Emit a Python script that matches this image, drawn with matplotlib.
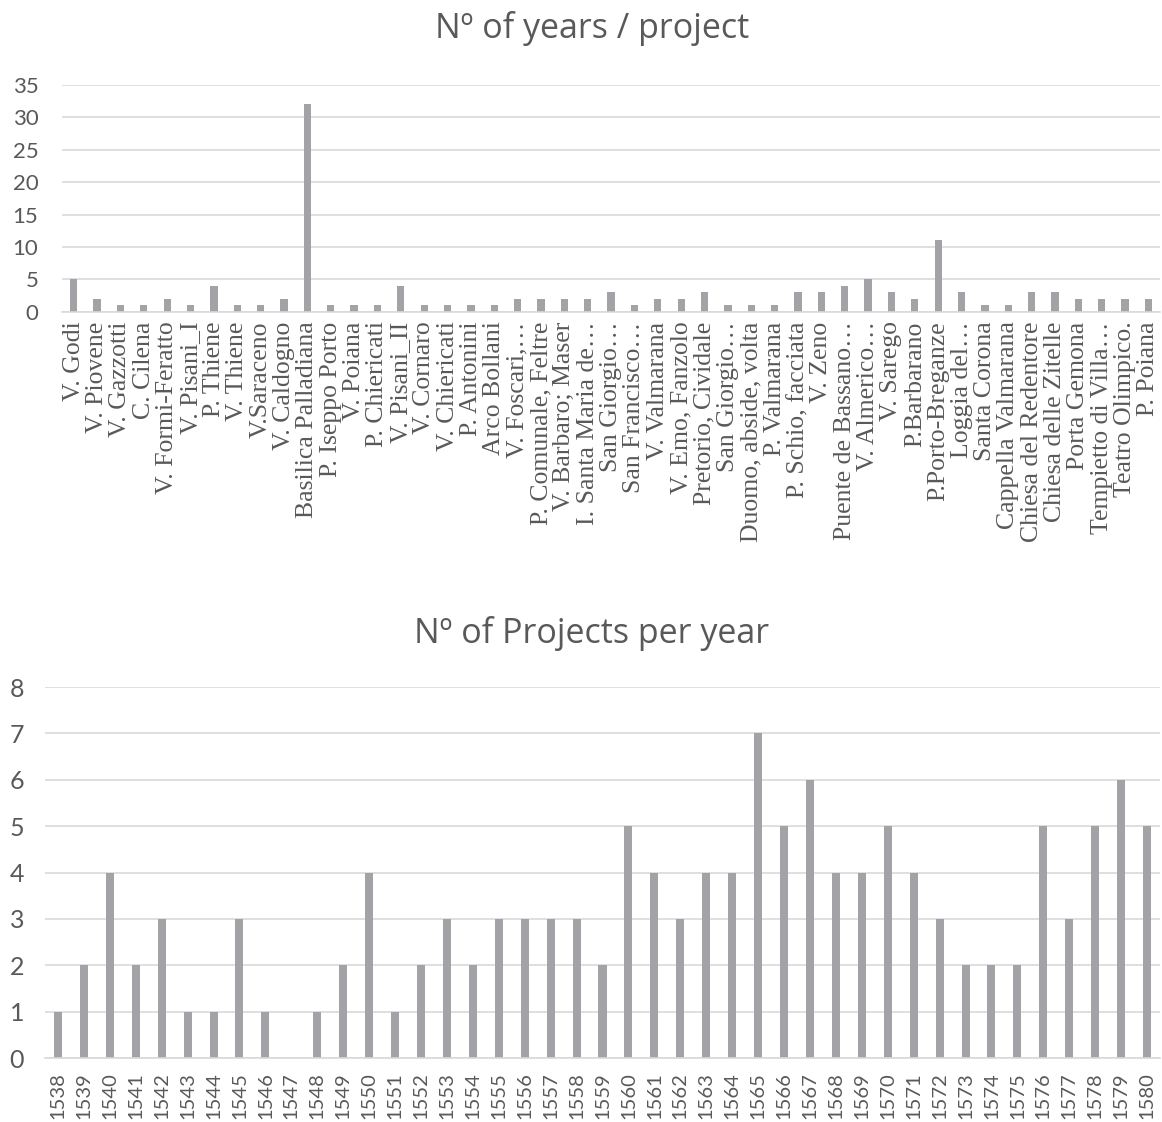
import numpy as np
import matplotlib
matplotlib.use("Agg")
import matplotlib.pyplot as plt

# data
projects = ["V. Godi", "V. Piovene", "V. Gazzotti", "C. Cilena", "V. Formi-Feratto",
            "V. Pisani_I", "P. Thiene", "V. Thiene", "V.Saraceno", "V. Caldogno",
            "Basilica Palladiana", "P. Iseppo Porto", "V. Poiana", "P. Chiericati",
            "V. Pisani_II", "V. Cornaro", "V. Chiericati", "P. Antonini", "Arco Bollani",
            "V. Foscari,…", "P. Comunale, Feltre", "V. Barbaro; Maser",
            "I. Santa Maria de…", "San Giorgio…", "San Francisco…", "V. Valmarana",
            "V. Emo, Fanzolo", "Pretorio, Cividale", "San Giorgio…",
            "Duomo, abside, volta", "P. Valmarana", "P. Schio, facciata", "V. Zeno",
            "Puente de Bassano…", "V. Almerico…", "V. Sarego", "P.Barbarano",
            "P.Porto-Breganze", "Loggia del…", "Santa Corona", "Cappella Valmarana",
            "Chiesa del Redentore", "Chiesa delle Zitelle", "Porta Gemona",
            "Tempietto di Villa…", "Teatro Olimpico.", "P. Poiana"]
years_per_project = [5, 2, 1, 1, 2, 1, 4, 1, 1, 2, 32, 1, 1, 1, 4, 1, 1, 1, 1, 2, 2, 2, 2,
                     3, 1, 2, 2, 3, 1, 1, 1, 3, 3, 4, 5, 3, 2, 11, 3, 1, 1, 3, 3, 2, 2, 2, 2]

years = list(range(1538, 1581))
projects_per_year = [1, 2, 4, 2, 3, 1, 1, 3, 1, 0, 1, 2, 4, 1, 2, 3, 2, 3, 3, 3, 3, 2,
                     5, 4, 3, 4, 4, 7, 5, 6, 4, 4, 5, 4, 3, 2, 2, 2, 5, 3, 5, 6, 5]

bar_col = "#a3a3a7"
grid_col = "#d9d9d9"
txt_col = "#595959"
sans = ["Lato", "DejaVu Sans"]
title_font = ["Open Sans", "DejaVu Sans"]

fig = plt.figure(figsize=(11.62, 11.22), dpi=100)

def style(ax):
    for s in ["top", "right", "left"]:
        ax.spines[s].set_visible(False)
    ax.spines["bottom"].set_color(grid_col)
    ax.spines["bottom"].set_linewidth(1.2)
    ax.yaxis.grid(True, color=grid_col, linewidth=1.2)
    ax.set_axisbelow(True)
    ax.tick_params(length=0)

# top chart
ax1 = fig.add_axes([0.0534, 0.7222, 0.945, 0.2020])
x1 = np.arange(len(projects))
ax1.bar(x1, years_per_project, width=0.31, color=bar_col)
ax1.set_xlim(-0.5, len(projects) - 0.5)
ax1.set_ylim(0, 35)
ax1.set_yticks(range(0, 36, 5))
style(ax1)
ax1.set_xticks(x1)
ax1.set_xticklabels(projects, rotation=90, family="Liberation Serif", fontsize=18.5,
                    color=txt_col)
ax1.tick_params(axis="x", pad=7)
ax1.tick_params(axis="y", pad=17)
for t in ax1.get_yticklabels():
    t.set_family(sans)
    t.set_fontsize(16)
    t.set_color(txt_col)

# bottom chart
ax2 = fig.add_axes([0.0387, 0.0570, 0.9596, 0.3307])
x2 = np.arange(len(years))
ax2.bar(x2, projects_per_year, width=0.31, color=bar_col)
ax2.set_xlim(-0.5, len(years) - 0.5)
ax2.set_ylim(0, 8)
ax2.set_yticks(range(0, 9))
style(ax2)
ax2.set_xticks(x2)
ax2.set_xticklabels([str(y) for y in years], rotation=90, family=sans, fontsize=14.5,
                    color=txt_col)
ax2.tick_params(axis="x", pad=10)
ax2.tick_params(axis="y", pad=15)
for t in ax2.get_yticklabels():
    t.set_family(sans)
    t.set_fontsize(18)
    t.set_color(txt_col)

fig.text(0.510, 0.975, "Nº of years / project", ha="center", va="center",
         family=title_font, fontsize=24.5, color=txt_col)
fig.text(0.509, 0.435, "Nº of Projects per year", ha="center", va="center",
         family=title_font, fontsize=24.5, color=txt_col)

fig.savefig("out.png", dpi=100)
